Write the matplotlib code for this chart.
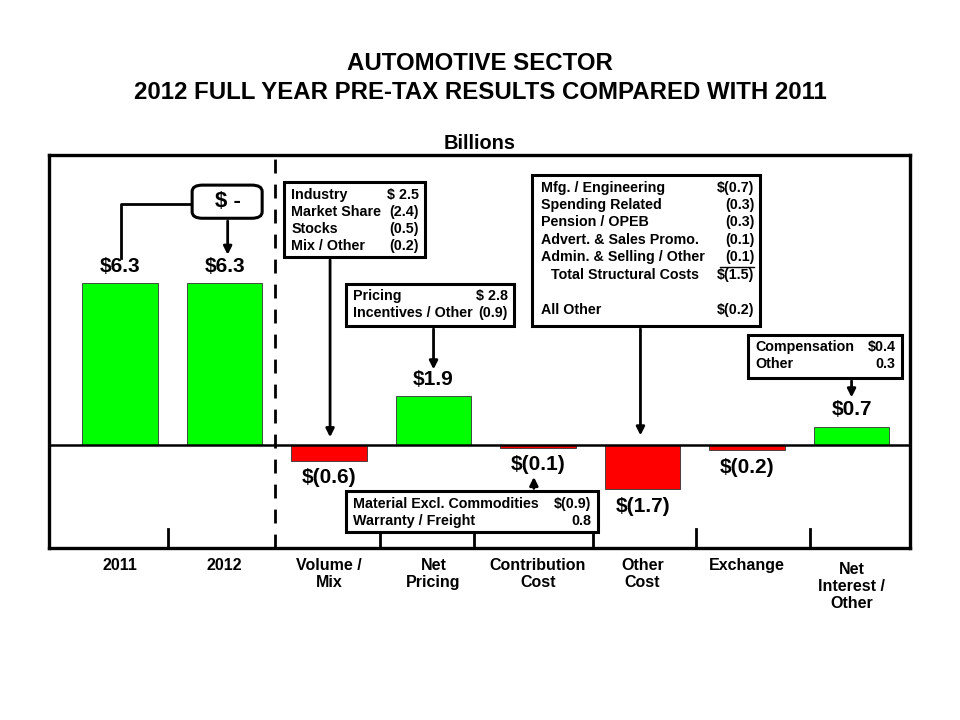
import matplotlib
matplotlib.use("Agg")
import matplotlib.pyplot as plt
from matplotlib.patches import Rectangle, FancyBboxPatch

plt.rcParams['font.family'] = ['Liberation Sans', 'DejaVu Sans']
plt.rcParams['font.weight'] = 'bold'

categories = ["2011", "2012", "Volume /\nMix", "Net\nPricing", "Contribution\nCost",
              "Other\nCost", "Exchange", "Net\nInterest /\nOther"]
values = [6.3, 6.3, -0.6, 1.9, -0.1, -1.7, -0.2, 0.7]
value_labels = ["$6.3", "$6.3", "$(0.6)", "$1.9", "$(0.1)", "$(1.7)", "$(0.2)", "$0.7"]
colors = ["#00FF00" if v > 0 else "#FF0000" for v in values]
# bottom tick marks between groups (as drawn in the original)
tick_pos = [0.46, 2.49, 3.39, 4.53, 5.51, 6.60]

fig = plt.figure(figsize=(9.6, 7.2), dpi=100)
ax = fig.add_axes([0.051, 0.239, 0.897, 0.546])
x = list(range(len(values)))
ax.bar(x, values, width=0.72, color=colors, edgecolor="#333333", linewidth=0.6, zorder=2)
ax.axhline(0, color="black", lw=1.8, zorder=3)
ax.set_xlim(-0.68, 7.56)
ax.set_ylim(-4.0, 11.3)

# thick frame
for s in ax.spines.values():
    s.set_linewidth(2.4)
ax.set_yticks([])
ax.set_xticks([])
for t in tick_pos:
    ax.plot([t, t], [-4.0, -3.25], color="black", lw=2, clip_on=False, zorder=4)
ax.axvline(1.48, color="black", lw=2, dashes=(5, 4), zorder=3)

# value labels
for i, (v, lab) in enumerate(zip(values, value_labels)):
    if v >= 0:
        ax.text(i, v + 0.3, lab, ha="center", va="bottom", fontsize=15, fontweight="bold")
    else:
        ax.text(i, v - 0.3, lab, ha="center", va="top", fontsize=15, fontweight="bold")
# category labels
for i, c in enumerate(categories):
    dy = -4.55 if i == 7 else -4.4
    ax.text(i, dy, c, ha="center", va="top", fontsize=11.5, fontweight="bold",
            linespacing=1.15)

fig.text(0.5, 0.912, "AUTOMOTIVE SECTOR", ha="center", va="center", fontsize=17.3, fontweight="bold")
fig.text(0.5, 0.871, "2012 FULL YEAR PRE-TAX RESULTS COMPARED WITH 2011", ha="center",
         va="center", fontsize=17.3, fontweight="bold")
fig.text(0.5, 0.801, "Billions", ha="center", va="center", fontsize=14.4, fontweight="bold")

arrow_kw = dict(arrowstyle="-|>", color="black", lw=2, mutation_scale=12)


def box(x0, x1, y0, y1):
    ax.add_patch(Rectangle((x0, y0), x1 - x0, y1 - y0, facecolor="white",
                           edgecolor="black", lw=2.2, zorder=5))


def rows(xl, xr, ys, items, fs=10.3):
    for y, (l, r) in zip(ys, items):
        ax.text(xl, y, l, ha="left", va="center", fontsize=fs, fontweight="bold", zorder=6)
        ax.text(xr, y, r, ha="right", va="center", fontsize=fs, fontweight="bold", zorder=6)


def arrow(xa, y_from, y_to):
    ax.annotate("", xy=(xa, y_to), xytext=(xa, y_from), arrowprops=arrow_kw, zorder=4)


# "$ -" rounded box
ax.add_patch(FancyBboxPatch((0.69, 8.83), 0.67, 1.29, boxstyle="round,pad=0,rounding_size=0.1",
                            facecolor="white", edgecolor="black", lw=2.2, zorder=5,
                            mutation_aspect=2.5))
ax.text(1.03, 9.47, "$ -", ha="center", va="center", fontsize=16, fontweight="bold", zorder=6)
ax.plot([0.69, 0.01, 0.01], [9.4, 9.4, 7.3], color="black", lw=2, zorder=4)
arrow(1.03, 8.83, 7.3)

# Volume / Mix
box(1.57, 2.92, 7.32, 10.23)
rows(1.64, 2.86, [9.73, 9.07, 8.40, 7.74],
     [("Industry", "$ 2.5"), ("Market Share", "(2.4)"), ("Stocks", "(0.5)"), ("Mix / Other", "(0.2)")])
arrow(2.01, 7.32, 0.2)

# Net pricing
box(2.16, 3.77, 4.63, 6.26)
rows(2.23, 3.71, [5.80, 5.14], [("Pricing", "$ 2.8"), ("Incentives / Other", "(0.9)")])
arrow(3.0, 4.63, 2.84)

# Other cost
box(3.94, 6.12, 4.63, 10.51)
rows(4.03, 6.07, [10.0, 9.34, 8.68, 7.98, 7.32],
     [("Mfg. / Engineering", "$(0.7)"), ("Spending Related", "(0.3)"), ("Pension / OPEB", "(0.3)"),
      ("Advert. & Sales Promo.", "(0.1)"), ("Admin. & Selling / Other", "(0.1)")])
rows(4.12, 6.07, [6.61], [("Total Structural Costs", "$(1.5)")])
rows(4.03, 6.07, [5.25], [("All Other", "$(0.2)")])
ax.plot([5.74, 6.07], [6.95, 6.95], color="black", lw=1, zorder=6)
arrow(4.98, 4.63, 0.27)

# Net interest / other
box(6.01, 7.48, 2.61, 4.28)
rows(6.08, 7.42, [3.81, 3.15], [("Compensation", "$0.4"), ("Other", "0.3")])
arrow(7.0, 2.61, 1.75)

# Contribution cost
box(2.16, 4.57, -3.39, -1.79)
rows(2.23, 4.51, [-2.30, -2.96], [("Material Excl. Commodities", "$(0.9)"), ("Warranty / Freight", "0.8")], fs=10.3)
arrow(3.96, -1.79, -1.13)

fig.savefig("out.png", dpi=100, facecolor="white")
